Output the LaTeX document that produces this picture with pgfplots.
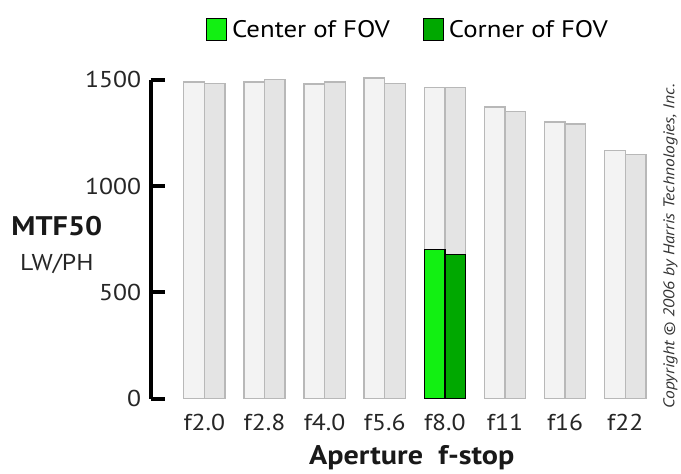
\documentclass[border=0pt]{standalone}
\usepackage{fontspec}
\setmainfont{PT Sans}[FakeStretch=1.12]
\usepackage{pgfplots}
\usepackage{pgfplotstable}
\pgfplotsset{compat=1.18}
\definecolor{cfill}{HTML}{F3F3F3}
\definecolor{kfill}{HTML}{E4E4E4}
\definecolor{bedge}{HTML}{B8B8B8}
\definecolor{gcen}{HTML}{12F012}
\definecolor{gcor}{HTML}{00A800}

\pgfplotstableread{
x center corner
0 1489 1484
1 1489 1500
2 1480 1489
3 1508 1481
4 1464 1464
5 1372 1352
6 1302 1292
7 1169 1148
}\mtfdata

\begin{document}
\begin{tikzpicture}
\path (0,0) rectangle (681pt,474pt);
\begin{axis}[
  at={(151pt,74pt)}, anchor=south west,
  scale only axis, width=509pt, height=320pt,
  xmin=-0.8955, xmax=7.546, ymin=0, ymax=1500,
  clip=false,
  axis x line=bottom, axis y line=left,
  x axis line style={draw=none},
  y axis line style={-, line width=4pt, black},
  xtick={0,...,7},
  xticklabels={f2.0,f2.8,f4.0,f5.6,f8.0,f11,f16,f22},
  xtick style={draw=none},
  ytick={0,500,1000,1500},
  yticklabels={0,500,1000,1500},
  ytick style={line width=4pt, black},
  tick align=inside, major tick length=14pt,
  minor tick num=0,
  ticklabel style={font=\fontsize{23}{26}\selectfont, text=black!85},
  xticklabel style={anchor=base, yshift=-32pt},
  yticklabel style={anchor=east, xshift=-6pt},
  legend style={draw=none, fill=none, at={(0.507,1.157)}, anchor=center,
    legend columns=2, font=\fontsize{24}{28}\selectfont,
    /tikz/every odd column/.append style={column sep=3pt},
    /tikz/every even column/.append style={column sep=31pt},
    nodes={inner sep=2pt}},
  legend image code/.code={\draw[#1] (0pt,-11pt) rectangle (20pt,11pt);},
]
\addplot[ybar, bar width=20.7pt, bar shift=-10.35pt, fill=cfill, draw=bedge, line width=1.3pt, forget plot]
  table[x=x, y=center]{\mtfdata};
\addplot[ybar, bar width=20.7pt, bar shift=10.35pt, fill=kfill, draw=bedge, line width=1.3pt, forget plot]
  table[x=x, y=corner]{\mtfdata};
\addplot[ybar, bar width=20.7pt, bar shift=-10.35pt, fill=gcen, draw=black, line width=1.3pt]
  coordinates {(4,703)};
\addlegendentry{Center of FOV}
\addplot[ybar, bar width=20.7pt, bar shift=10.35pt, fill=gcor, draw=black, line width=1.3pt]
  coordinates {(4,680)};
\addlegendentry{Corner of FOV}
\end{axis}
\node[font=\bfseries\fontsize{27}{30}\selectfont, text=black!90] at (57pt,247pt) {MTF50};
\node[font=\fontsize{23}{26}\selectfont, text=black!85] at (57pt,209.5pt) {LW/PH};
\node[font=\bfseries\fontsize{27}{30}\selectfont, anchor=base, text=black!90] at (413pt,8pt) {Aperture\ \ f-stop};
\node[rotate=90, font=\itshape\fontsize{15.6}{18}\selectfont, text=black!80] at (672.5pt,227pt) {Copyright © 2006 by Harris Technologies, Inc.};
\end{tikzpicture}
\end{document}
